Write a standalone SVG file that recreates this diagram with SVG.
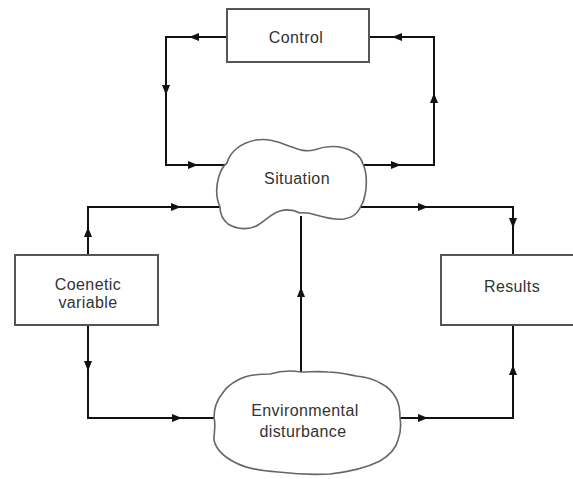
<svg xmlns="http://www.w3.org/2000/svg" xmlns:xlink="http://www.w3.org/1999/xlink" width="573" height="479" viewBox="0 0 573 479">
  <style>
    .box { fill: #fff; stroke: #555; stroke-width: 2; }
    .cloud { fill: #fff; stroke: #666; stroke-width: 1.6; stroke-linejoin: round; }
    .wire { fill: none; stroke: #111; stroke-width: 2; }
    .head { fill: #111; }
    .lbl { font-family: "Liberation Sans", Arial, sans-serif; font-size: 16px; fill: #333; text-anchor: middle; letter-spacing: 0.4px; }
  </style>
  <defs>
    <!-- arrowhead pointing along +x, centred on the origin -->
    <path id="ah" d="M-5,-4 L5,0 L-5,4 Z"/>
  </defs>
  <rect width="573" height="479" fill="#fff"/>

  <g id="connectors">
    <!-- control loop -->
    <path class="wire" d="M227,37 H166 V165 H227"/>
    <path class="wire" d="M363,165 H434 V37 H369"/>
    <!-- coenetic variable to situation and disturbance -->
    <path class="wire" d="M88,255 V207 H220"/>
    <path class="wire" d="M88,325 V418 H214"/>
    <!-- situation to results -->
    <path class="wire" d="M360,207 H513 V255"/>
    <!-- disturbance to results -->
    <path class="wire" d="M400,418 H513 V325"/>
    <!-- disturbance to situation -->
    <path class="wire" d="M301,372 V216"/>

    <g class="head">
      <use xlink:href="#ah" transform="translate(194,37) rotate(180)"/>
      <use xlink:href="#ah" transform="translate(166,90) rotate(90)"/>
      <use xlink:href="#ah" transform="translate(193,165)"/>
      <use xlink:href="#ah" transform="translate(396,165)"/>
      <use xlink:href="#ah" transform="translate(434,98) rotate(-90)"/>
      <use xlink:href="#ah" transform="translate(397,37) rotate(180)"/>
      <use xlink:href="#ah" transform="translate(88,232) rotate(-90)"/>
      <use xlink:href="#ah" transform="translate(176,207)"/>
      <use xlink:href="#ah" transform="translate(88,366) rotate(90)"/>
      <use xlink:href="#ah" transform="translate(177,418)"/>
      <use xlink:href="#ah" transform="translate(423,207)"/>
      <use xlink:href="#ah" transform="translate(513,223) rotate(90)"/>
      <use xlink:href="#ah" transform="translate(423,418)"/>
      <use xlink:href="#ah" transform="translate(513,370) rotate(-90)"/>
      <use xlink:href="#ah" transform="translate(301,292) rotate(-90)"/>
    </g>
  </g>

  <g id="control">
    <rect class="box" x="227" y="9" width="142" height="53"/>
    <text class="lbl" x="296" y="43">Control</text>
  </g>

  <g id="situation">
    <path class="cloud" d="M227,163 C230,152 240,143 256,140 C270,138 280,143 292,147 C300,150 306,152 314,150 C322,147 332,145 344,148 C355,151 361,157 363,164 C367,172 367,186 365,195 C364,201 362,205 360,208 C357,214 352,218 344,219 C334,220 326,218 316,215 C310,213 306,212 300,213 C294,210 287,209 280,211 C272,213 266,220 258,225 C250,230 238,230 228,224 C222,219 220,213 220,207 C216,198 216,186 219,176 C221,170 223,166 227,163 Z"/>
    <text class="lbl" x="297" y="184">Situation</text>
  </g>

  <g id="coenetic-variable">
    <rect class="box" x="15" y="255" width="143" height="70"/>
    <text class="lbl" x="88" y="290">Coenetic</text>
    <text class="lbl" x="88" y="308">variable</text>
  </g>

  <g id="results">
    <rect class="box" x="441" y="255" width="140" height="70"/>
    <text class="lbl" x="512" y="292">Results</text>
  </g>

  <g id="environmental-disturbance">
    <path class="cloud" d="M301,372 C290,370 280,371 270,374 C258,374 246,375 238,380 C230,384 225,389 222,394 C217,400 214,409 214,418 C216,424 214,432 214,440 C216,450 226,458 236,463 C248,469 262,471 278,472 C295,474 312,475 330,474 C348,472 366,468 380,461 C390,455 396,448 398,440 C401,432 401,424 400,418 C400,410 399,403 396,398 C392,391 388,387 382,384 C374,379 366,377 356,376 C346,374 338,372 328,372 C318,371 310,372 301,372 Z"/>
    <text class="lbl" x="305" y="416">Environmental</text>
    <text class="lbl" x="303" y="437">disturbance</text>
  </g>
</svg>
